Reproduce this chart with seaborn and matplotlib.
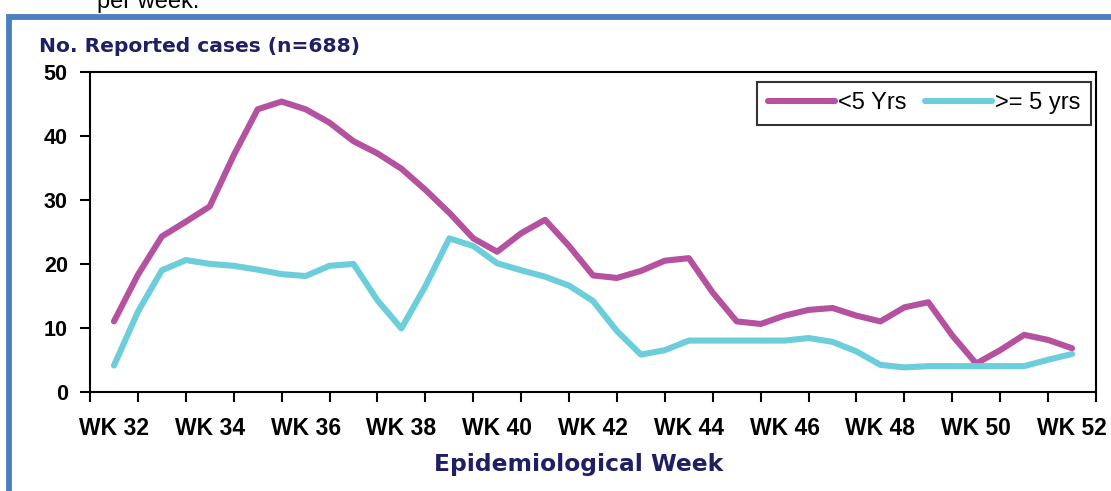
import matplotlib
matplotlib.use("Agg")
import matplotlib.pyplot as plt
import numpy as np
import pandas as pd
import seaborn as sns
from matplotlib.patches import Rectangle
from matplotlib.ticker import FixedLocator

# half-week readings of reported cases, WK 32 .. WK 52
weeks = [32.0, 32.5, 33.0, 33.5, 34.0, 34.5, 35.0, 35.5, 36.0, 36.5, 37.0,
         37.5, 38.0, 38.5, 39.0, 39.5, 40.0, 40.5, 41.0, 41.5, 42.0, 42.5,
         43.0, 43.5, 44.0, 44.5, 45.0, 45.5, 46.0, 46.5, 47.0, 47.5, 48.0,
         48.5, 49.0, 49.5, 50.0, 50.5, 51.0, 51.5, 52.0]
under5 = [11.0, 18.3, 24.3, 26.6, 29.0, 37.0, 44.2, 45.4, 44.2, 42.1, 39.2,
          37.3, 34.9, 31.6, 28.0, 24.0, 21.9, 24.8, 26.9, 22.8, 18.2, 17.8,
          18.9, 20.5, 20.9, 15.5, 11.0, 10.6, 11.9, 12.8, 13.1, 11.9, 11.0,
          13.2, 14.0, 8.8, 4.4, 6.5, 8.9, 8.1, 6.8]
over5 = [4.1, 12.5, 19.0, 20.6, 20.0, 19.7, 19.1, 18.4, 18.1, 19.7, 20.0,
         14.3, 9.9, 16.5, 24.0, 22.8, 20.1, 19.0, 18.0, 16.6, 14.2, 9.5,
         5.8, 6.5, 8.0, 8.0, 8.0, 8.0, 8.0, 8.4, 7.8, 6.3, 4.2,
         3.8, 4.0, 4.0, 4.0, 4.0, 4.0, 5.0, 5.9]
series_names = ["<5 Yrs", ">= 5 yrs"]
label_weeks = [32, 34, 36, 38, 40, 42, 44, 46, 48, 50, 52]
y_ticks = [0, 10, 20, 30, 40, 50]

PURPLE = "#b5529f"
CYAN = "#6dcedb"
NAVY = "#1f1f63"
FRAME = "#4a7fc1"

df = pd.DataFrame({
    "week": weeks * 2,
    "cases": under5 + over5,
    "group": [series_names[0]] * len(weeks) + [series_names[1]] * len(weeks),
})

sns.set_theme(style="white")
plt.rcParams["font.family"] = ["Liberation Sans", "DejaVu Sans"]

W, H = 1111, 491
fig = plt.figure(figsize=(W / 100, H / 100), dpi=100)

# outer blue frame (runs off the right and bottom edges)
fig.patches.append(Rectangle((9 / W, -0.1), 1.2, 1 - 17 / H + 0.1,
                             transform=fig.transFigure, fill=False,
                             edgecolor=FRAME, linewidth=4.2, zorder=0))
fig.text(97 / W, 1 + 9 / H, "per week.", fontsize=17, color="black",
         ha="left", va="top")

ax = fig.add_axes([90 / W, 1 - 391.7 / H, (1096 - 90) / W, (391.7 - 72.2) / H])
sns.lineplot(data=df, x="week", y="cases", hue="group",
             palette=[PURPLE, CYAN], linewidth=4.4, ax=ax,
             solid_capstyle="round", solid_joinstyle="round")

ax.set_xlim(31.5, 52.5)
ax.set_ylim(0, 50)
ax.set_xticks(label_weeks)
ax.set_xticklabels([f"WK {w}" for w in label_weeks], fontsize=16.5, fontweight="bold")
ax.xaxis.set_minor_locator(FixedLocator(np.arange(31.5, 53, 1.0)))
ax.tick_params(axis="x", which="major", length=0, pad=18, colors="black")
ax.tick_params(axis="x", which="minor", bottom=True, length=7, width=1.5, color="black")
ax.set_yticks(y_ticks)
ax.set_yticklabels([str(v) for v in y_ticks], fontsize=15.5, fontweight="bold")
ax.tick_params(axis="y", left=True, length=7, width=1.5, pad=9, colors="black")
for s in ax.spines.values():
    s.set_visible(True)
    s.set_color("black")
    s.set_linewidth(1.5)
ax.set_xlabel("")
ax.set_ylabel("")

fig.text(39 / W, 1 - 47 / H, "No. Reported cases (n=688)", fontsize=14.6,
         fontweight="bold", color=NAVY, family="DejaVu Sans", va="center", ha="left")
fig.text(579 / W, 1 - 465 / H, "Epidemiological Week", fontsize=16.8,
         fontweight="bold", color=NAVY, family="DejaVu Sans", va="center", ha="center")

leg = ax.legend(loc="upper right", bbox_to_anchor=(1090.7 / W, 1 - 81.7 / H),
                bbox_transform=fig.transFigure, ncol=2, fontsize=17,
                frameon=True, fancybox=False, handlelength=2.85,
                handletextpad=0.1, columnspacing=0.8, borderpad=0.45,
                borderaxespad=0)
leg.get_frame().set_edgecolor("black")
leg.get_frame().set_linewidth(1.5)
for text in leg.get_texts():
    text.set_color("black")
for line in leg.get_lines():
    line.set_linewidth(4.4)
    line.set_solid_capstyle("round")

fig.savefig("out.png", dpi=100)
